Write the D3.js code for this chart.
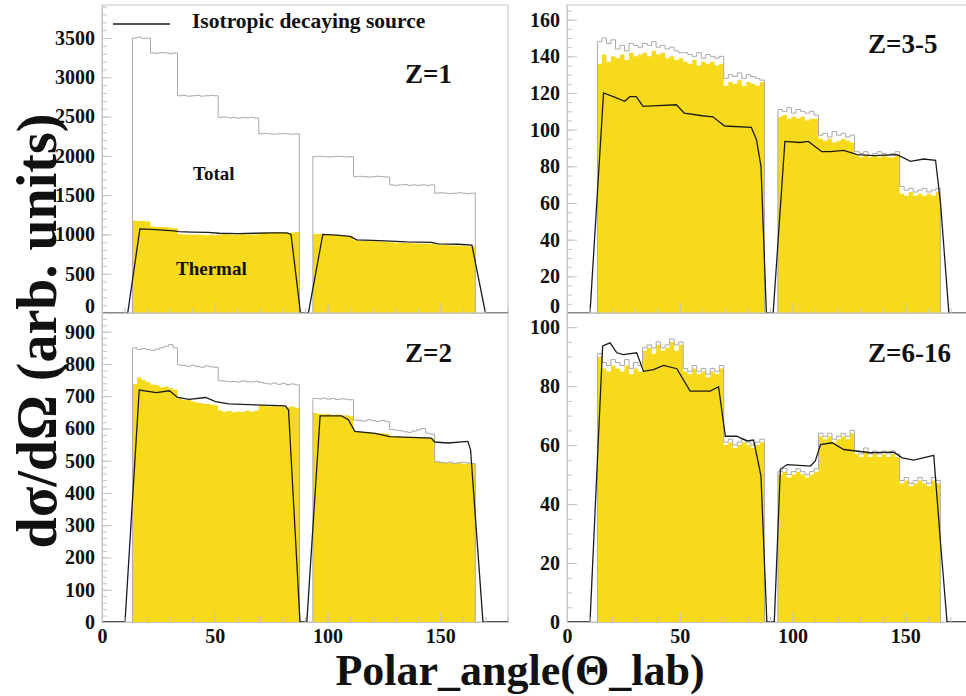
<!DOCTYPE html>
<html>
<head>
<meta charset="utf-8">
<script src="https://cdn.jsdelivr.net/npm/d3@7"></script>
<style>
  html, body { margin: 0; padding: 0; background: #fff; }
  svg { display: block; }
  text { font-family: "Liberation Serif", "DejaVu Serif", serif; font-weight: bold; fill: #111; }
</style>
</head>
<body>
<svg id="chart" width="966" height="696"></svg>
<script>
// ---------------- DATA ----------------
// Histogram bins (lower edges, 2 degree wide) for the two detector angular ranges
const binsA = d3.range(13.5, 87.5, 2);   // 37 bins: 13.5 .. 87.5
const binsB = d3.range(93.5, 165.5, 2);  // 36 bins: 93.5 .. 165.5
const binWidth = 2;
const xTicks = [0, 50, 100, 150];

// Z=1
const z1TotalA   = [3500,3510,3495,3500, 3310,3305,3315,3310,3300,3310, 2765,2770,2760,2765,2770,2760,2765,2770,2765, 2490,2495,2485,2490,2480,2490,2485,2490,2480, 2280,2285,2280,2275,2280,2285,2280,2275,2280];
const z1TotalB   = [1990,1995,1990,1985,1990,1995,1990,1985,1990, 1735,1740,1735,1730,1735,1740,1735,1730, 1630,1625,1630,1635,1625,1630,1625,1630,1625,1630, 1525,1530,1525,1520,1525,1530,1525,1520,1525];
const z1ThermalA = [1175,1170,1170,1165, 1100,1095,1095,1090,1085,1080, 1005,1000,1000,995,1000,995,990,995,990, 1000,1005,1000,995,1000,1005,1000,995,1000, 1020,1025,1020,1025,1030,1025,1020,1025,1030];
const z1ThermalB = [1010,1005,1000,1000,995,990,985,980,975, 925,920,920,915,915,910,910,905, 900,895,895,890,890,885,885,880,880,880, 870,865,865,860,860,855,855,850,850];
const z1IsoAngle = [0,11.4,16.8,22,27,32,34,40,47,52,60,68,75,82,83.8,88, 91.5,97.9,104,110,113,120,128,135,146,149,158,164,170,180];
const z1IsoValue = [0,0,1070,1065,1055,1045,1035,1030,1025,1015,1010,1015,1020,1020,1000,0, 0,1000,990,975,930,925,915,905,900,880,875,865,0,0];

// Z=3-5
const z35TotalA   = [148,150,147,149, 144,146,143,147,146,145, 147,146,148,145,146,144,145,143,142, 142,141,140,142,139,141,140,139,140, 128,130,129,131,128,130,129,128,127];
const z35TotalB   = [111,110,112,109,111,110,109,110,108, 97,98,96,99,97,98,96,97, 88,87,88,86,87,88,87,86,87,88, 69,67,68,66,67,68,66,67,68];
const z35ThermalA = [136,141,137,140, 139,141,138,142,140,141, 142,140,143,141,142,139,140,138,139, 137,136,138,135,137,136,137,135,136, 124,126,125,127,124,126,125,124,126];
const z35ThermalB = [107,108,106,107,106,107,105,106,106, 95,94,95,93,94,95,94,93, 86,85,86,85,86,85,86,85,85,86, 65,64,66,64,65,64,65,64,66];
const z35IsoAngle = [0,10.2,16.2,20.5,25.6,27.8,30.7,33.7,38,48.5,52,60,64.7,69.9,81.7,84,86,88.4, 91.4,96.6,103.3,107,113,116.8,122.7,128.6,136,146.4,152.3,158.2,163.4,165.6,169.3,180];
const z35IsoValue = [0,0,120,118,115.5,118,118,112.7,113,113.6,109,107.6,107,102,101.3,94.5,80,0, 0,93.6,93,93.6,88,88,88.7,86.4,85.8,86.4,82.7,84,83.3,60,0,0];

// Z=2
const z2TotalA   = [850,845,848,845, 842,846,850,855,860,850, 797,795,793,796,792,790,794,791,790, 748,747,745,746,744,747,745,744,746, 743,740,738,741,737,740,736,738,735];
const z2TotalB   = [693,692,694,691,693,690,692,691,689, 626,625,623,627,624,622,625,621, 597,595,593,590,588,592,596,600,585,582, 497,495,493,496,492,494,495,493,491];
const z2ThermalA = [738,758,750,744, 736,734,728,730,725,720, 692,688,690,684,680,678,676,674,672, 656,652,654,650,653,651,655,652,656, 672,670,668,671,667,669,666,668,664];
const z2ThermalB = [648,646,644,645,642,643,640,641,638, 592,590,588,589,587,586,585,584, 576,575,574,573,574,572,573,571,572,570, 497,495,493,494,492,493,491,492,490];
const z2IsoAngle = [0,10.2,16.5,24.1,29.9,33.5,38.6,46,50.3,56.2,68,81.3,82.7,87.8, 90.8,96.7,106.2,109.2,112.1,121,127.6,146,147.5,153.4,162.2,163.4,168.9,180];
const z2IsoValue = [0,0,719,711,717,696,690,696,683,676,673,670,657,0, 0,639,639,627,591,585,575,570,558,555,560,534,0,0];

// Z=6-16
const z616TotalA   = [91,88,87,89, 88,87,89,86,88,87, 93,94,93,95,93,94,96,94,95, 86,85,87,85,86,84,86,85,87, 61,62,60,61,62,61,60,61,62];
const z616TotalB   = [51,52,50,51,52,51,50,51,52, 64,63,64,62,63,64,63,65, 58,57,59,57,58,57,58,57,58,57, 48,49,47,48,49,48,47,49,48];
const z616ThermalA = [90,86,85,87, 86,85,87,84,86,85, 92,93,91,94,92,93,95,92,94, 85,84,86,84,85,83,85,84,86, 60,61,59,60,61,60,59,60,61];
const z616ThermalB = [50,51,49,50,51,50,49,50,51, 63,62,63,61,62,63,62,64, 57,56,58,56,57,56,57,56,57,56, 47,48,46,47,48,47,46,48,47];
const z616IsoAngle = [0,10.2,15.8,19.1,22.1,25,30.9,33.9,38.3,42.8,48.7,54.6,63.5,67.2,70.2,75.3,79.8,82.7,84.2,86,88.6, 91.9,94.6,97.6,107.9,110.1,112.4,117.5,122.7,134.5,144.9,148.6,153.7,162.6,165.6,168.5,180];
const z616IsoValue = [0,0,93.6,94.7,91.3,90.7,91.3,85,85.6,87,85.9,78.3,78.3,79.8,63,63,61.4,61.7,56.3,49.5,0, 0,51.8,53.4,52.9,54.6,60.2,60.8,58.5,57.4,57.6,55.7,54.9,56.5,26.9,0,0];

// Y axis ticks per panel
const z1YTicks   = [0,500,1000,1500,2000,2500,3000,3500];
const z35YTicks  = [0,20,40,60,80,100,120,140,160];
const z2YTicks   = [0,100,200,300,400,500,600,700,800,900];
const z616YTicks = [0,20,40,60,80,100];

// ---------------- LAYOUT ----------------
const panels = [
  { label: "Z=1",    x0: 102, x1: 508, yTop: 5,   yBot: 313, yMax: 3920, yTicks: z1YTicks,   yMinor: 100, top: true,
    totA: z1TotalA, totB: z1TotalB, thA: z1ThermalA, thB: z1ThermalB, isoX: z1IsoAngle, isoY: z1IsoValue, lx: 405, ly: 83 },
  { label: "Z=3-5",  x0: 567, x1: 973, yTop: 5,   yBot: 313, yMax: 168,  yTicks: z35YTicks,  yMinor: 5,   top: true,
    totA: z35TotalA, totB: z35TotalB, thA: z35ThermalA, thB: z35ThermalB, isoX: z35IsoAngle, isoY: z35IsoValue, lx: 868, ly: 53 },
  { label: "Z=2",    x0: 102, x1: 508, yTop: 313, yBot: 622, yMax: 958,  yTicks: z2YTicks,   yMinor: 20,  top: false,
    totA: z2TotalA, totB: z2TotalB, thA: z2ThermalA, thB: z2ThermalB, isoX: z2IsoAngle, isoY: z2IsoValue, lx: 405, ly: 362 },
  { label: "Z=6-16", x0: 567, x1: 973, yTop: 313, yBot: 622, yMax: 104.8, yTicks: z616YTicks, yMinor: 5,  top: false,
    totA: z616TotalA, totB: z616TotalB, thA: z616ThermalA, thB: z616ThermalB, isoX: z616IsoAngle, isoY: z616IsoValue, lx: 868, ly: 362 }
];

const YELLOW = "#f8da1c";
const GREY = "#a9a9a9";
const FRAME = "#c4c4c4";
const BLACK = "#1c1c1c";

const svg = d3.select("#chart");

function stepPoints(bins, vals) {
  const pts = bins.map((b, i) => [b, vals[i]]);
  pts.push([bins[bins.length - 1] + binWidth, vals[vals.length - 1]]);
  return pts;
}

panels.forEach(p => {
  const x = d3.scaleLinear().domain([0, 180]).range([p.x0, p.x1]);
  const y = d3.scaleLinear().domain([0, p.yMax]).range([p.yBot, p.yTop]);
  const g = svg.append("g");

  // frame
  g.append("rect").attr("x", p.x0).attr("y", p.yTop)
    .attr("width", p.x1 - p.x0).attr("height", p.yBot - p.yTop)
    .attr("fill", "none").attr("stroke", FRAME).attr("stroke-width", 1);

  const area = d3.area().x(d => x(d[0])).y0(y(0)).y1(d => y(d[1])).curve(d3.curveStepAfter);
  const stepLine = d3.line().x(d => x(d[0])).y(d => y(d[1])).curve(d3.curveStepAfter);

  // thermal (yellow filled histogram)
  [[binsA, p.thA], [binsB, p.thB]].forEach(([b, v]) => {
    g.append("path").attr("d", area(stepPoints(b, v))).attr("fill", YELLOW).attr("stroke", "none");
  });

  // total (grey outline histogram)
  [[binsA, p.totA], [binsB, p.totB]].forEach(([b, v]) => {
    const pts = stepPoints(b, v);
    const end = pts[pts.length - 1][0];
    const full = [[b[0], 0]].concat(pts);
    g.append("path").attr("d", stepLine(full) + "L" + x(end) + "," + y(0))
      .attr("fill", "none").attr("stroke", GREY).attr("stroke-width", 1);
  });

  // isotropic decaying source line
  const iso = p.isoX.map((a, i) => [a, p.isoY[i]]);
  g.append("path").attr("d", d3.line().x(d => x(d[0])).y(d => y(d[1]))(iso))
    .attr("fill", "none").attr("stroke", BLACK).attr("stroke-width", 1.3);

  // y axis
  const yMinorTicks = d3.range(0, p.yMax, p.yMinor);
  g.append("g").attr("transform", `translate(${p.x0},0)`)
    .call(d3.axisLeft(y).tickValues(yMinorTicks).tickSizeInner(-5).tickSizeOuter(0).tickFormat(""))
    .call(a => a.select(".domain").remove())
    .call(a => a.selectAll("line").attr("stroke", FRAME));
  g.append("g").attr("transform", `translate(${p.x0},0)`)
    .call(d3.axisLeft(y).tickValues(p.yTicks).tickSizeInner(-10).tickSizeOuter(0).tickPadding(7).tickFormat(d3.format("d")))
    .call(a => a.select(".domain").attr("stroke", FRAME))
    .call(a => a.selectAll("line").attr("stroke", FRAME))
    .call(a => a.selectAll("text").attr("font-size", 20).attr("font-family", "Liberation Serif, serif").attr("font-weight", "bold").attr("fill", "#111")
      .attr("dy", d => (p.top && d === 0) ? "-0.05em" : "0.32em"));

  // x axis
  g.append("g").attr("transform", `translate(0,${p.yBot})`)
    .call(d3.axisBottom(x).tickValues(d3.range(0, 181, 10)).tickSizeInner(-5).tickSizeOuter(0).tickFormat(""))
    .call(a => a.select(".domain").remove())
    .call(a => a.selectAll("line").attr("stroke", FRAME));
  const xa = g.append("g").attr("transform", `translate(0,${p.yBot})`)
    .call(d3.axisBottom(x).tickValues(xTicks).tickSizeInner(-10).tickSizeOuter(0).tickPadding(7).tickFormat(d3.format("d")))
    .call(a => a.select(".domain").attr("stroke", FRAME))
    .call(a => a.selectAll("line").attr("stroke", FRAME))
    .call(a => a.selectAll("text").attr("font-size", 20).attr("font-family", "Liberation Serif, serif").attr("font-weight", "bold").attr("fill", "#111"));
  if (p.top) xa.selectAll("text").remove();

  // panel label
  g.append("text").attr("x", p.lx).attr("y", p.ly).attr("font-size", 27).text(p.label);
});

// Z=1 annotations
svg.append("text").attr("x", 193).attr("y", 180).attr("font-size", 19).text("Total");
svg.append("text").attr("x", 176).attr("y", 275).attr("font-size", 19).text("Thermal");

// legend
svg.append("line").attr("x1", 113).attr("x2", 170).attr("y1", 24).attr("y2", 24)
  .attr("stroke", BLACK).attr("stroke-width", 1.3);
svg.append("text").attr("x", 192).attr("y", 28).attr("font-size", 21.5).text("Isotropic decaying source");

// axis titles
svg.append("text").attr("x", 520).attr("y", 685).attr("text-anchor", "middle")
  .attr("font-size", 44).text("Polar_angle(\u0398_lab)");
svg.append("text").attr("transform", "translate(56,331) rotate(-90)").attr("text-anchor", "middle")
  .attr("font-size", 56)
  .text("d\u03C3/d\u03A9 (arb. units)");
</script>
</body>
</html>
